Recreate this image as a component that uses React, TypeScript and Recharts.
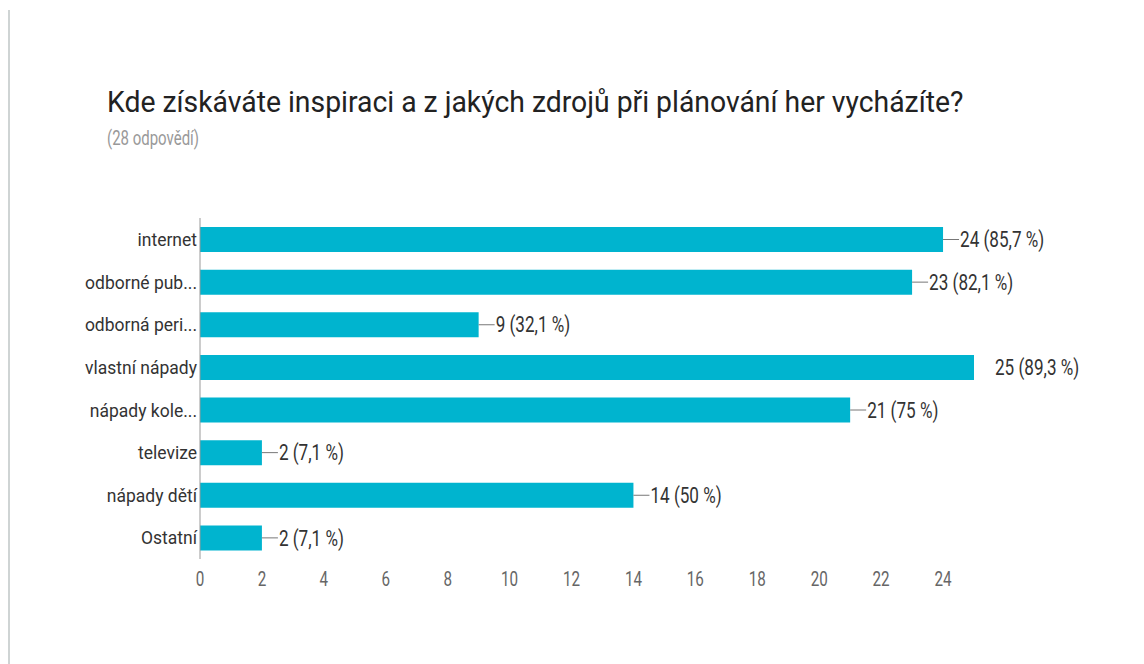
import React from 'react';
import { BarChart, Bar, XAxis, YAxis, LabelList } from 'recharts';

const categories = [
  'internet',
  'odborné pub...',
  'odborná peri...',
  'vlastní nápady',
  'nápady kole...',
  'televize',
  'nápady dětí',
  'Ostatní',
];
const counts = [24, 23, 9, 25, 21, 2, 14, 2];
const totalResponses = 28;
const xTicks = [0, 2, 4, 6, 8, 10, 12, 14, 16, 18, 20, 22, 24];

const title = 'Kde získáváte inspiraci a z jakých zdrojů při plánování her vycházíte?';
const subtitle = '(28 odpovědí)';

const FONT = 'Roboto, "Liberation Sans", sans-serif';
const BAR_COLOR = '#00b4cf';

const data = categories.map((name, i) => {
  const pct = (counts[i] / totalResponses) * 100;
  let p = pct.toFixed(1);
  if (p.endsWith('.0')) p = p.slice(0, -2);
  return {
    name,
    value: counts[i],
    label: `${counts[i]} (${p.replace('.', ',')} %)`,
  };
});
const maxCount = Math.max(...counts);

const ValueLabel = (props: any) => {
  const { x, y, width, height, index } = props;
  const d = data[index];
  const endX = x + width;
  const cy = y + height / 2;
  const noConnector = d.value === maxCount;
  return (
    <g>
      {!noConnector && (
        <line x1={endX} y1={cy} x2={endX + 16} y2={cy} stroke="#777" strokeWidth={1} />
      )}
      <g transform={`translate(${noConnector ? endX + 21 : endX + 17},${cy}) scale(0.9,1.15)`}>
        <text x={0} y={0} dy="0.35em" fontSize={19} fill="#333" fontFamily={FONT}>
          {d.label}
        </text>
      </g>
    </g>
  );
};

const XTick = (props: any) => {
  const { x, y, payload } = props;
  return (
    <g transform={`translate(${x},${y + 20}) scale(0.8,1.1)`}>
      <text x={0} y={0} dy="0.35em" textAnchor="middle" fontSize={19} fill="#666" fontFamily={FONT}>
        {payload.value}
      </text>
    </g>
  );
};

const YTick = (props: any) => {
  const { x, y, payload } = props;
  return (
    <g transform={`translate(${x - 3},${y}) scale(1,1.1)`}>
      <text x={0} y={0} dy="0.35em" textAnchor="end" fontSize={17.5} fill="#333" fontFamily={FONT}>
        {payload.value}
      </text>
    </g>
  );
};

export default function App() {
  return (
    <div
      style={{
        position: 'absolute',
        left: 0,
        top: 0,
        width: 1144,
        height: 664,
        background: '#fff',
        overflow: 'hidden',
      }}
    >
      <div
        style={{
          position: 'absolute',
          left: 8,
          top: 10,
          width: 2,
          height: 654,
          background: '#cfd4d4',
        }}
      />
      <svg
        width={1144}
        height={200}
        style={{ position: 'absolute', left: 0, top: 0 }}
      >
        <g transform="translate(107,112) scale(0.945,1)">
          <text x={0} y={0} fontSize={30} fill="#222" fontFamily={FONT}>
            {title}
          </text>
        </g>
        <g transform="translate(107,145) scale(0.75,1)">
          <text x={0} y={0} fontSize={20} fill="#999" fontFamily={FONT}>
            {subtitle}
          </text>
        </g>
      </svg>
      <div style={{ position: 'absolute', left: 0, top: 0 }}>
        <BarChart
          width={1144}
          height={664}
          data={data}
          layout="vertical"
          margin={{ top: 218, right: 170, bottom: 75, left: 10 }}
          barSize={25}
        >
          <XAxis
            type="number"
            domain={[0, 25]}
            ticks={xTicks}
            axisLine={false}
            tickLine={false}
            tickSize={0}
            tickMargin={0}
            height={30}
            tick={<XTick />}
            interval={0}
          />
          <YAxis
            type="category"
            dataKey="name"
            width={190}
            axisLine={{ stroke: '#999' }}
            tickLine={false}
            tickSize={0}
            tickMargin={0}
            interval={0}
            tick={<YTick />}
          />
          <Bar dataKey="value" fill={BAR_COLOR} isAnimationActive={false}>
            <LabelList dataKey="value" content={<ValueLabel />} />
          </Bar>
        </BarChart>
      </div>
    </div>
  );
}
